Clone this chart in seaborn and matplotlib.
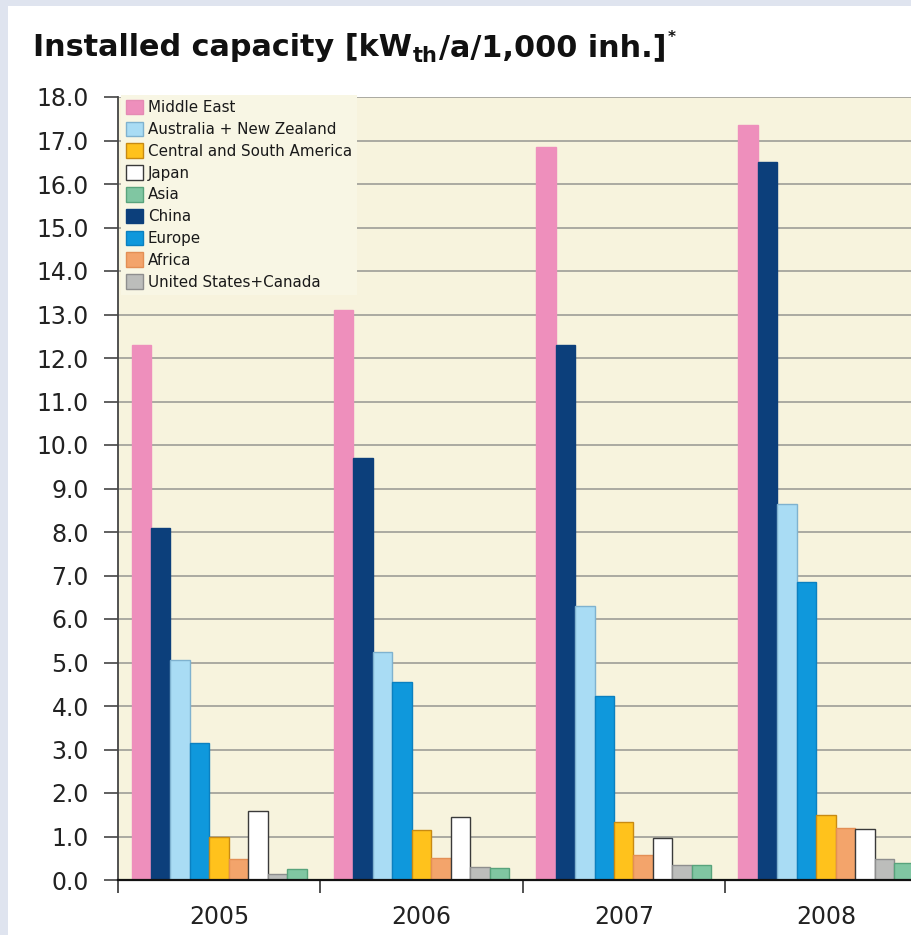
import matplotlib
matplotlib.use("Agg")
import matplotlib.pyplot as plt
import matplotlib.patches as mpatches
import seaborn as sns
import pandas as pd

# ---- data (kW_th per year per 1,000 inhabitants) ----
years = ["2005", "2006", "2007", "2008"]
middle_east = [12.3, 13.1, 16.85, 17.35]
china = [8.1, 9.7, 12.3, 16.5]
australia_nz = [5.05, 5.25, 6.3, 8.65]
europe = [3.15, 4.55, 4.23, 6.85]
central_south_america = [1.0, 1.15, 1.33, 1.5]
africa = [0.48, 0.5, 0.57, 1.2]
japan = [1.58, 1.45, 0.96, 1.17]
us_canada = [0.13, 0.3, 0.34, 0.48]
asia = [0.25, 0.28, 0.34, 0.39]

regions = {
    "Middle East": middle_east,
    "China": china,
    "Australia + New Zealand": australia_nz,
    "Europe": europe,
    "Central and South America": central_south_america,
    "Africa": africa,
    "Japan": japan,
    "United States+Canada": us_canada,
    "Asia": asia,
}
bar_order = list(regions.keys())
legend_order = ["Middle East", "Australia + New Zealand", "Central and South America",
                "Japan", "Asia", "China", "Europe", "Africa", "United States+Canada"]

fill = {
    "Middle East": "#ee8fbc",
    "China": "#0c3f7b",
    "Australia + New Zealand": "#a9dcf4",
    "Europe": "#0f98dc",
    "Central and South America": "#ffc21c",
    "Africa": "#f3a46b",
    "Japan": "#ffffff",
    "United States+Canada": "#bcbdbb",
    "Asia": "#80c6a2",
}
edge = {
    "Middle East": "#ee8fbc",
    "China": "#0c3f7b",
    "Australia + New Zealand": "#7fb2cf",
    "Europe": "#0b80c0",
    "Central and South America": "#c88a12",
    "Africa": "#e38f55",
    "Japan": "#3a3a3a",
    "United States+Canada": "#8e8e8e",
    "Asia": "#58a37c",
}

rows = [(y, r, v) for r, vals in regions.items() for y, v in zip(years, vals)]
df = pd.DataFrame(rows, columns=["Year", "Region", "Value"])

sns.set_theme(style="white")
plt.rcParams["font.family"] = ["DejaVu Sans"]

W, H = 912, 935
fig = plt.figure(figsize=(W / 100, H / 100), dpi=100)
fig.patch.set_facecolor("#dfe4ef")
fig.patches.append(mpatches.Rectangle((8 / W, 0), 1, 1 - 6 / H, transform=fig.transFigure,
                                      facecolor="white", edgecolor="none", zorder=-10))

ax = fig.add_axes([118 / W, 55 / H, 1 - 118 / W, (880 - 97) / H])
ax.set_facecolor("#f7f3dd")

sns.barplot(data=df, x="Year", y="Value", hue="Region", hue_order=bar_order,
            order=years, palette=fill, saturation=1, width=0.866, dodge=True,
            errorbar=None, legend=False, ax=ax, zorder=3)

for region, cont in zip(bar_order, ax.containers):
    for bar in cont:
        bar.set_edgecolor(edge[region])
        bar.set_linewidth(1.0)

ax.set_ylim(0, 18)
ax.set_xlim(-0.5, (912 - 118) / 202.3 - 0.5)
ax.set_yticks(range(0, 19))
ax.set_yticklabels([f"{v:.1f}" for v in range(0, 19)], fontsize=17, color="#222222")
ax.yaxis.grid(True, color="#a4a49c", linewidth=1.3, zorder=0)
ax.set_axisbelow(True)

ax.set_xticks(range(len(years)))
ax.set_xticklabels(years, fontsize=17, color="#222222")
ax.set_xticks([-0.5, 0.5, 1.5, 2.5], minor=True)
ax.tick_params(axis="x", which="major", length=0, pad=18)
ax.tick_params(axis="x", which="minor", length=9, width=1.2, color="#333333", direction="out", bottom=True)
ax.tick_params(axis="y", which="major", length=10, width=1.2, color="#444444", direction="out", left=True, pad=11)
ax.set_xlabel("")
ax.set_ylabel("")

for s in ("top", "right"):
    ax.spines[s].set_visible(False)
ax.spines["left"].set_color("#444444")
ax.spines["left"].set_linewidth(1.3)
ax.spines["bottom"].set_color("#111111")
ax.spines["bottom"].set_linewidth(1.6)
ax.spines["bottom"].set_zorder(5)

handles = [mpatches.Patch(facecolor=fill[r], edgecolor=edge[r] if r != "Middle East" else "#e58ab4",
                          linewidth=1.0, label=r) for r in legend_order]
leg = ax.legend(handles=handles, loc="upper left", bbox_to_anchor=(0.004, 1.003),
                frameon=True, fancybox=False, framealpha=1, facecolor="#f8f6e4",
                edgecolor="none", fontsize=10.9, handlelength=1.1, handleheight=1.1,
                handletextpad=0.3, labelspacing=0.42, borderpad=0.35, borderaxespad=0)
for t in leg.get_texts():
    t.set_color("#1a1a1a")
leg.set_zorder(10)

# heading: main text, subscript unit part, remainder and footnote mark
title_font = dict(family=["DejaVu Sans"], fontweight="bold", color="#111111")
renderer = fig.canvas.get_renderer()
base_y = 1 - 56 / H
pieces = [
    ("Installed capacity [kW", 21.8, 0),
    ("th", 15, -6),
    ("/a/1,000 inh.]", 21.8, 0),
    ("*", 11, 14),
]
x_px = 33
for txt, size, dy in pieces:
    t = fig.text(x_px / W, base_y + dy / H, txt, fontsize=size, ha="left", va="baseline", **title_font)
    x_px = t.get_window_extent(renderer).x1 + 1

fig.savefig("out.png", dpi=100, facecolor=fig.get_facecolor())
